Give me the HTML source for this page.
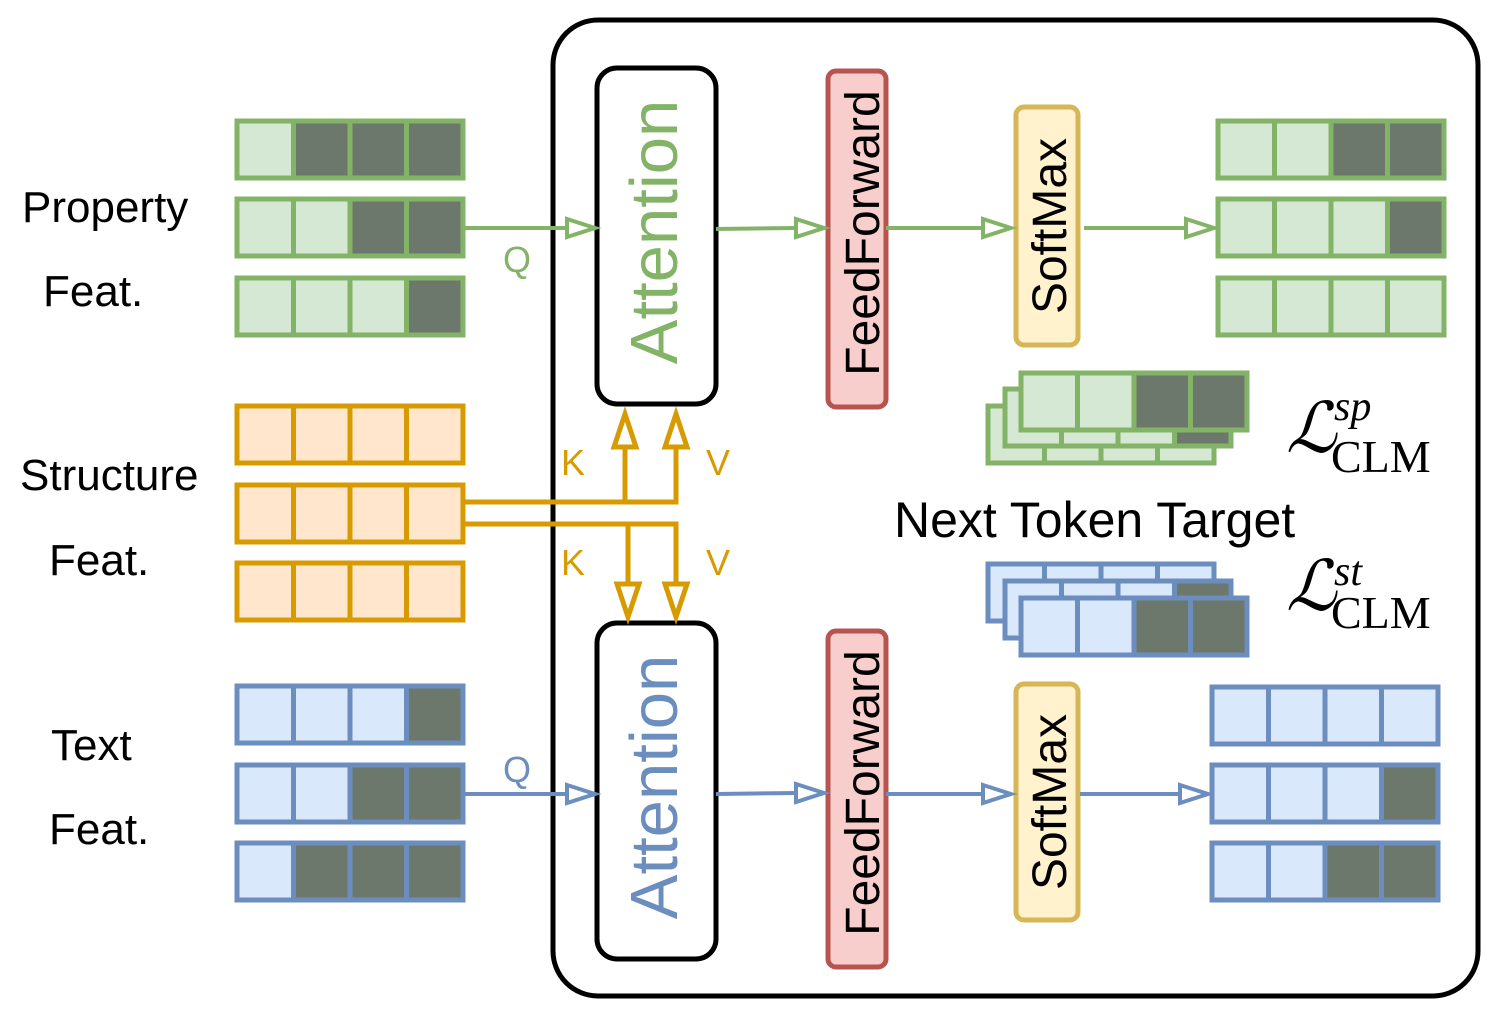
<!DOCTYPE html>
<html><head><meta charset="utf-8"><style>body{margin:0;background:#fff}svg{display:block}
.g{fill:#d5e8d4;stroke:#82b366;stroke-width:5}.gd{fill:#6d786d;stroke:#82b366;stroke-width:5}
.b{fill:#dae8fc;stroke:#6c8ebf;stroke-width:5}.bd{fill:#6d786d;stroke:#6c8ebf;stroke-width:5}
.o{fill:#ffe6cc;stroke:#d79b00;stroke-width:5}</style></head><body>
<svg width="1498" height="1010" viewBox="0 0 1498 1010" xmlns="http://www.w3.org/2000/svg" font-family="Liberation Sans, sans-serif">
<rect x="553" y="20" width="925" height="976" rx="45" fill="#fff" stroke="#000" stroke-width="5"/>
<rect class="g" x="237" y="121" width="56.5" height="57"/><rect class="gd" x="293.5" y="121" width="56.5" height="57"/><rect class="gd" x="350" y="121" width="56.5" height="57"/><rect class="gd" x="406.5" y="121" width="56.5" height="57"/>
<rect class="g" x="237" y="199" width="56.5" height="57"/><rect class="g" x="293.5" y="199" width="56.5" height="57"/><rect class="gd" x="350" y="199" width="56.5" height="57"/><rect class="gd" x="406.5" y="199" width="56.5" height="57"/>
<rect class="g" x="237" y="278" width="56.5" height="57"/><rect class="g" x="293.5" y="278" width="56.5" height="57"/><rect class="g" x="350" y="278" width="56.5" height="57"/><rect class="gd" x="406.5" y="278" width="56.5" height="57"/>
<rect class="o" x="237" y="406" width="56.5" height="57"/><rect class="o" x="293.5" y="406" width="56.5" height="57"/><rect class="o" x="350" y="406" width="56.5" height="57"/><rect class="o" x="406.5" y="406" width="56.5" height="57"/>
<rect class="o" x="237" y="485" width="56.5" height="57"/><rect class="o" x="293.5" y="485" width="56.5" height="57"/><rect class="o" x="350" y="485" width="56.5" height="57"/><rect class="o" x="406.5" y="485" width="56.5" height="57"/>
<rect class="o" x="237" y="563" width="56.5" height="57"/><rect class="o" x="293.5" y="563" width="56.5" height="57"/><rect class="o" x="350" y="563" width="56.5" height="57"/><rect class="o" x="406.5" y="563" width="56.5" height="57"/>
<rect class="b" x="237" y="686" width="56.5" height="57"/><rect class="b" x="293.5" y="686" width="56.5" height="57"/><rect class="b" x="350" y="686" width="56.5" height="57"/><rect class="bd" x="406.5" y="686" width="56.5" height="57"/>
<rect class="b" x="237" y="765" width="56.5" height="57"/><rect class="b" x="293.5" y="765" width="56.5" height="57"/><rect class="bd" x="350" y="765" width="56.5" height="57"/><rect class="bd" x="406.5" y="765" width="56.5" height="57"/>
<rect class="b" x="237" y="843" width="56.5" height="57"/><rect class="bd" x="293.5" y="843" width="56.5" height="57"/><rect class="bd" x="350" y="843" width="56.5" height="57"/><rect class="bd" x="406.5" y="843" width="56.5" height="57"/>
<rect class="g" x="1218" y="121" width="56.5" height="57"/><rect class="g" x="1274.5" y="121" width="56.5" height="57"/><rect class="gd" x="1331" y="121" width="56.5" height="57"/><rect class="gd" x="1387.5" y="121" width="56.5" height="57"/>
<rect class="g" x="1218" y="199" width="56.5" height="57"/><rect class="g" x="1274.5" y="199" width="56.5" height="57"/><rect class="g" x="1331" y="199" width="56.5" height="57"/><rect class="gd" x="1387.5" y="199" width="56.5" height="57"/>
<rect class="g" x="1218" y="278" width="56.5" height="57"/><rect class="g" x="1274.5" y="278" width="56.5" height="57"/><rect class="g" x="1331" y="278" width="56.5" height="57"/><rect class="g" x="1387.5" y="278" width="56.5" height="57"/>
<rect class="b" x="1212" y="687" width="56.5" height="57"/><rect class="b" x="1268.5" y="687" width="56.5" height="57"/><rect class="b" x="1325" y="687" width="56.5" height="57"/><rect class="b" x="1381.5" y="687" width="56.5" height="57"/>
<rect class="b" x="1212" y="765" width="56.5" height="57"/><rect class="b" x="1268.5" y="765" width="56.5" height="57"/><rect class="b" x="1325" y="765" width="56.5" height="57"/><rect class="bd" x="1381.5" y="765" width="56.5" height="57"/>
<rect class="b" x="1212" y="843" width="56.5" height="57"/><rect class="b" x="1268.5" y="843" width="56.5" height="57"/><rect class="bd" x="1325" y="843" width="56.5" height="57"/><rect class="bd" x="1381.5" y="843" width="56.5" height="57"/>
<rect class="g" x="988" y="406" width="56.5" height="57"/><rect class="g" x="1044.5" y="406" width="56.5" height="57"/><rect class="g" x="1101" y="406" width="56.5" height="57"/><rect class="g" x="1157.5" y="406" width="56.5" height="57"/>
<rect class="g" x="1005" y="389" width="56.5" height="57"/><rect class="g" x="1061.5" y="389" width="56.5" height="57"/><rect class="g" x="1118" y="389" width="56.5" height="57"/><rect class="gd" x="1174.5" y="389" width="56.5" height="57"/>
<rect class="g" x="1021" y="373" width="56.5" height="57"/><rect class="g" x="1077.5" y="373" width="56.5" height="57"/><rect class="gd" x="1134" y="373" width="56.5" height="57"/><rect class="gd" x="1190.5" y="373" width="56.5" height="57"/>
<rect class="b" x="988" y="564" width="56.5" height="57"/><rect class="b" x="1044.5" y="564" width="56.5" height="57"/><rect class="b" x="1101" y="564" width="56.5" height="57"/><rect class="b" x="1157.5" y="564" width="56.5" height="57"/>
<rect class="b" x="1005" y="581" width="56.5" height="57"/><rect class="b" x="1061.5" y="581" width="56.5" height="57"/><rect class="b" x="1118" y="581" width="56.5" height="57"/><rect class="bd" x="1174.5" y="581" width="56.5" height="57"/>
<rect class="b" x="1021" y="598" width="56.5" height="57"/><rect class="b" x="1077.5" y="598" width="56.5" height="57"/><rect class="bd" x="1134" y="598" width="56.5" height="57"/><rect class="bd" x="1190.5" y="598" width="56.5" height="57"/>
<rect x="597" y="68" width="119" height="336" rx="20" fill="#fff" stroke="#000" stroke-width="5"/>
<rect x="597" y="623" width="119" height="336" rx="20" fill="#fff" stroke="#000" stroke-width="5"/>
<rect x="828" y="71" width="58" height="336" rx="8" fill="#f8cecc" stroke="#b85450" stroke-width="5"/>
<rect x="828" y="631" width="58" height="336" rx="8" fill="#f8cecc" stroke="#b85450" stroke-width="5"/>
<rect x="1016" y="107" width="62" height="238" rx="8" fill="#fff2cc" stroke="#d6b656" stroke-width="5"/>
<rect x="1016" y="684" width="62" height="236" rx="8" fill="#fff2cc" stroke="#d6b656" stroke-width="5"/>
<g font-size="67" text-anchor="middle">
<text transform="translate(677,232) rotate(-90)" fill="#82b366">Attention</text>
<text transform="translate(677,787) rotate(-90)" fill="#6c8ebf">Attention</text>
</g>
<g font-size="48" text-anchor="middle" fill="#000">
<text transform="translate(879,233) rotate(-90)">FeedForward</text>
<text transform="translate(879,793) rotate(-90)">FeedForward</text>
<text transform="translate(1066,226) rotate(-90)">SoftMax</text>
<text transform="translate(1066,802) rotate(-90)">SoftMax</text>
</g>
<g stroke-width="4" fill="#fff">
<g stroke="#82b366">
<line x1="463" y1="228" x2="567" y2="228"/><path d="M567,219 L595,228 L567,237 Z"/>
<line x1="716" y1="229" x2="796" y2="228"/><path d="M796,219 L824,228 L796,237 Z"/>
<line x1="886" y1="228" x2="983" y2="228"/><path d="M983,219 L1011,228 L983,237 Z"/>
<line x1="1084" y1="228" x2="1186" y2="228"/><path d="M1186,219 L1214,228 L1186,237 Z"/>
</g>
<g stroke="#6c8ebf">
<line x1="463" y1="794" x2="567" y2="794"/><path d="M567,785 L595,794 L567,803 Z"/>
<line x1="716" y1="794" x2="796" y2="793"/><path d="M796,784 L824,793 L796,802 Z"/>
<line x1="886" y1="794" x2="983" y2="794"/><path d="M983,785 L1011,794 L983,803 Z"/>
<line x1="1080" y1="794" x2="1180" y2="794"/><path d="M1180,785 L1208,794 L1180,803 Z"/>
</g>
<g stroke="#d79b00" fill="none" stroke-width="5">
<path d="M463,502 H676 V445"/><path d="M625,502 V445"/>
<path d="M463,524 H676 V585"/><path d="M628,524 V585"/>
<path d="M614,447 L625,414 L636,447 Z" fill="#fff"/>
<path d="M665,447 L676,414 L687,447 Z" fill="#fff"/>
<path d="M617,584 L628,617 L639,584 Z" fill="#fff"/>
<path d="M665,584 L676,617 L687,584 Z" fill="#fff"/>
</g>
</g>
<g font-size="36">
<text x="503" y="272" fill="#82b366">Q</text>
<text x="503" y="782" fill="#6c8ebf">Q</text>
<text x="561" y="475" fill="#d79b00">K</text>
<text x="706" y="475" fill="#d79b00">V</text>
<text x="561" y="575" fill="#d79b00">K</text>
<text x="706" y="575" fill="#d79b00">V</text>
</g>
<g font-size="44" fill="#000">
<text x="22" y="222">Property</text>
<text x="43" y="306">Feat.</text>
<text x="20" y="490">Structure</text>
<text x="49" y="575">Feat.</text>
<text x="51" y="760">Text</text>
<text x="49" y="844">Feat.</text>
<text x="894" y="537" font-size="50">Next Token Target</text>
</g>
<g font-family="Liberation Serif, DejaVu Serif, serif" fill="#000">
<text x="1286" y="452" font-size="70" font-style="italic">ℒ</text>
<text x="1334" y="420" font-size="42" font-style="italic">sp</text>
<text x="1331" y="472" font-size="46">CLM</text>
<text x="1286" y="610" font-size="70" font-style="italic">ℒ</text>
<text x="1334" y="585" font-size="42" font-style="italic">st</text>
<text x="1331" y="628" font-size="46">CLM</text>
</g>
</svg>
</body></html>
